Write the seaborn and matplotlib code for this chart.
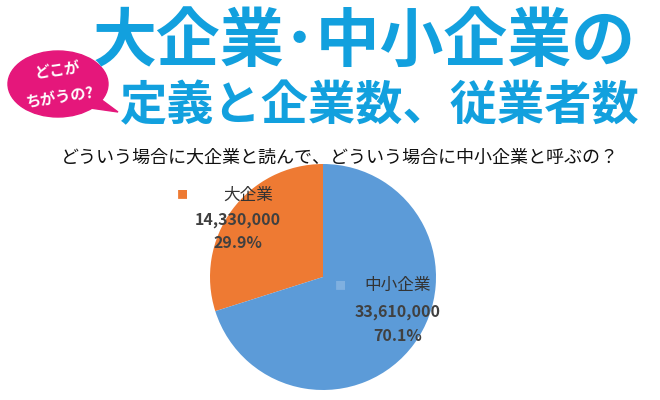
import matplotlib
matplotlib.use("Agg")
import matplotlib.pyplot as plt
import seaborn as sns
from matplotlib.patches import Ellipse, Polygon

sns.set_theme(style="white")
plt.rcParams['font.family'] = ['Noto Sans CJK JP', 'DejaVu Sans']

categories = ["大企業", "中小企業"]
counts = [14330000, 33610000]
shares = ["29.9%", "70.1%"]
colors = ["#EE7A33", "#5C9BD8"]

fig = plt.figure(figsize=(6.6, 4.0), dpi=100)
fig.patch.set_facecolor("white")

# 見出し
fig.text(0.14, 0.895, "大企業･中小企業の", fontsize=46, fontweight="bold",
         color="#12A0DE", va="center", ha="left")
fig.text(0.182, 0.735, "定義と企業数、従業者数", fontsize=34, fontweight="bold",
         color="#12A0DE", va="center", ha="left")
fig.text(0.515, 0.605, "どういう場合に大企業と読んで、どういう場合に中小企業と呼ぶの？",
         fontsize=13, color="#111111", va="center", ha="center")

# ピンクの吹き出し
bub = fig.add_axes([0, 0, 1, 1], zorder=-1)
bub.set_xlim(0, 660); bub.set_ylim(400, 0); bub.axis("off")
bub.add_patch(Ellipse((58, 84), 100, 66, color="#E5177B"))
bub.add_patch(Polygon([[95, 95], [118, 112], [90, 108]], color="#E5177B"))
bub.text(58, 70, "どこが", color="white", fontsize=11, fontweight="bold",
         ha="center", va="center", rotation=8)
bub.text(60, 97, "ちがうの?", color="white", fontsize=11, fontweight="bold",
         ha="center", va="center", rotation=8)

# 円グラフ
ax = fig.add_axes([210 / 660, 10 / 400, 226 / 660, 226 / 400])
ax.pie(counts, colors=colors, startangle=90, counterclock=True,
       wedgeprops=dict(linewidth=0))
ax.set_xlim(-1, 1); ax.set_ylim(-1, 1)
ax.set_aspect("equal")

# ラベル
lab = dict(ha="center", va="center", color="#404040", fontsize=11.5, fontweight="bold")
fig.text(182 / 660, 1 - 195 / 400, "■", color=colors[0], fontsize=8, ha="center", va="center")
fig.text(248 / 660, 1 - 195 / 400, categories[0], ha="center", va="center", color="#333333", fontsize=12)
fig.text(238 / 660, 1 - 220 / 400, f"{counts[0]:,}", **lab)
fig.text(238 / 660, 1 - 243 / 400, shares[0], **lab)

fig.text(340 / 660, 1 - 286 / 400, "■", color="#7FB0E0", fontsize=8, ha="center", va="center")
fig.text(398 / 660, 1 - 285 / 400, categories[1], ha="center", va="center", color="#333333", fontsize=12)
fig.text(398 / 660, 1 - 312 / 400, f"{counts[1]:,}", **lab)
fig.text(398 / 660, 1 - 336 / 400, shares[1], **lab)

fig.savefig("out.png", dpi=100)
